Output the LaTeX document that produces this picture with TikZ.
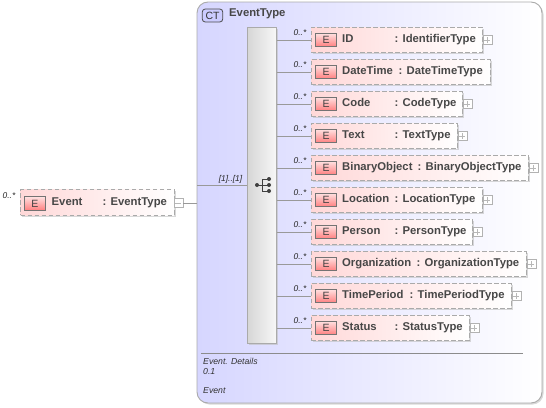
\documentclass[tikz,border=0pt]{standalone}
\usepackage{fontspec}
\setmainfont{Liberation Sans}
\usepackage{xcolor}
\usetikzlibrary{shadows}
\definecolor{ctleft}{RGB}{214,214,255}
\definecolor{elleft}{RGB}{255,216,216}
\definecolor{edge}{RGB}{170,170,170}
\begin{document}
\begin{tikzpicture}[x=1pt,y=-1pt,font=\fontsize{9}{11}\selectfont,
 soft/.style={drop shadow={shadow xshift=1.5pt,shadow yshift=-1.5pt,fill=black!25,opacity=.6}},
 ctbox/.style={draw=edge,line width=.9pt,rounded corners=11pt,left color=ctleft,right color=white,soft},
 seqbox/.style={draw=edge,line width=.9pt,left color=black!16,right color=black!3,soft,anchor=north west,
                minimum width=29pt,minimum height=316pt,inner sep=0pt},
 element/.style={draw=edge,dash pattern=on 4.5pt off 2.5pt,line width=1pt,left color=elleft,right color=white,
                 soft,anchor=west,minimum height=25.5pt,inner sep=0pt},
 badge/.style={draw=black!55,line width=.6pt,top color=red!12,bottom color=red!50,
               font=\fontsize{10.5}{12}\selectfont,minimum width=21pt,minimum height=13.5pt,inner sep=0pt,text=black!75},
 ctbadge/.style={draw=black!70,line width=.8pt,rounded corners=3pt,fill=blue!20,
                 font=\fontsize{10.5}{12}\selectfont,minimum width=20.5pt,minimum height=13pt,inner sep=0pt,text=black!80},
 eltext/.style={font=\fontsize{11.3}{13}\selectfont\bfseries,text=black!72,anchor=west,inner sep=0pt,
                text height=8pt,text depth=2pt},
 occurs/.style={font=\fontsize{8.4}{10}\selectfont\itshape,text=black!85,inner sep=0pt},
 note/.style={font=\fontsize{8.7}{10}\selectfont\itshape,text=black!80,anchor=west,inner sep=0pt},
 link/.style={draw=black!40,line width=.6pt},
 expander/.style={draw=black!30,fill=white,line width=.5pt,anchor=west,minimum width=9pt,minimum height=9pt,inner sep=0pt},
 plusbox/.style={expander,path picture={\draw[black!28,line width=.5pt]
   (path picture bounding box.center)++(-3pt,0)--++(6pt,0)
   (path picture bounding box.center)++(0,-3pt)--++(0,6pt);}},
 minusbox/.style={expander,path picture={\draw[black!28,line width=.5pt]
   (path picture bounding box.center)++(-3pt,0)--++(6pt,0);}}]
 \useasboundingbox (0,0) rectangle (546,407);
 % complex type frame
 \path[ctbox] (197,2) rectangle (542,403);
 \node[ctbadge] (ct) at (212.5,15.5) {CT};
 \node[eltext] (cttitle) at (229,13.5) {EventType};
 \node[seqbox] (seq) at (247,27) {};
 \fill[black!75] (257,185) circle (2pt) (269,179) circle (2pt) (269,185) circle (2pt) (269,191) circle (2pt);
 \draw[black!75,line width=.8pt] (257,185)--(269,185) (262,179)--(262,191) (262,179)--(269,179) (262,191)--(269,191);
 % global element
 \node[element,minimum width=153.5pt] (event) at (20,202.5) {};
 \node[badge] (eventbadge) at (35,203.5) {E};
 \node[eltext] (eventname) at (51.5,202) {Event};
 \node[eltext] (eventtype) at (102.5,202) {: EventType};
 \node[minusbox] (eventexp) at (173.5,203) {};
 \node[occurs] (eventocc) at (9,196) {0..*};
 \coordinate (framein) at (197,185);
 \coordinate (frameleft) at (197,203);
 \draw[link] (eventexp.east)--(frameleft);
 \draw[link] (framein)--(framein-|seq.west);
 \node[occurs] (seqocc) at (230.5,179) {[1]..[1]};
 % child elements
 \foreach \i/\elname/\eltype/\elwidth/\colx/\more in {
   0/ID/IdentifierType/171/394.5/1,
   1/DateTime/DateTimeType/179/398.5/0,
   2/Code/CodeType/151/394.5/1,
   3/Text/TextType/146/394.5/1,
   4/BinaryObject/BinaryObjectType/217/417.5/1,
   5/Location/LocationType/171/394.5/1,
   6/Person/PersonType/161/394.5/1,
   7/Organization/OrganizationType/215/416.5/1,
   8/TimePeriod/TimePeriodType/200/409.5/1,
   9/Status/StatusType/158/394.5/1} {
   \pgfmathsetmacro{\rowy}{40+32*\i}
   \node[element,minimum width=\elwidth pt] (el\i) at (310.5,\rowy) {};
   \node[badge] (badge\i) at (326,\rowy) {E};
   \node[eltext] (name\i) at (342,\rowy-.5) {\elname};
   \node[eltext] (type\i) at (\colx,\rowy-.5) {: \eltype};
   \node[occurs] (occ\i) at (300,\rowy-7) {0..*};
   \draw[link] (seq.east|-el\i.west)--(el\i.west);
   \ifnum\more=1 \node[plusbox] (exp\i) at (el\i.east) {}; \fi
 }
 % annotation
 \coordinate (ruleleft) at (201,353);
 \coordinate (ruleright) at (523,353);
 \draw[black!45,line width=.7pt] (ruleleft)--(ruleright);
 \node[note] (doc1) at (203,361) {Event. Details};
 \node[note] (doc2) at (203,371) {0.1};
 \node[note] (doc3) at (203,391) {Event};
\end{tikzpicture}
\end{document}
